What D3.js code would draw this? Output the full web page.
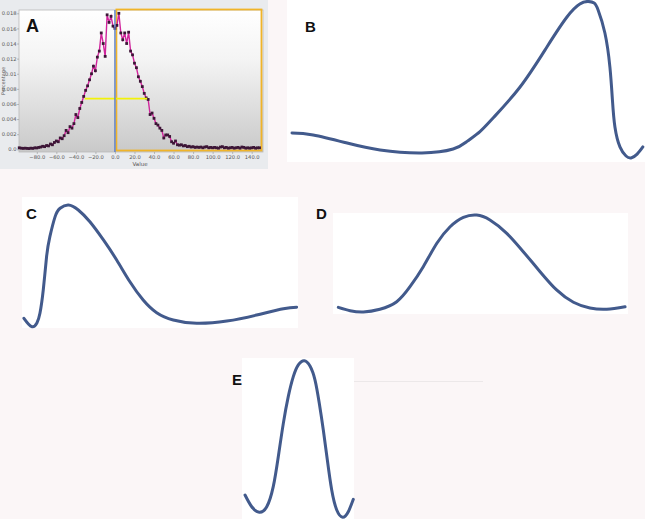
<!DOCTYPE html>
<html>
<head>
<meta charset="utf-8">
<script src="https://cdn.jsdelivr.net/npm/d3@7"></script>
<style>
  body { margin: 0; background: #fbf6f7; }
  svg { display: block; }
</style>
</head>
<body>
<div id="chart"></div>
<script>
// ---- panel A: histogram of values ----
var histX = [-98, -96, -94, -92, -90, -88, -86, -84, -82, -80, -78, -76, -74, -72, -70, -68, -66, -64, -62, -60,
  -58, -56, -54, -52, -50, -48, -46, -44, -42, -40, -38, -36, -34, -32, -30, -28, -26, -24, -22, -20,
  -18, -16, -14, -12, -10, -8, -6, -4, -2, 0, 2, 4, 6, 8, 10, 12, 14, 16, 18, 20,
  22, 24, 26, 28, 30, 32, 34, 36, 38, 40, 42, 44, 46, 48, 50, 52, 54, 56, 58, 60,
  62, 64, 66, 68, 70, 72, 74, 76, 78, 80, 82, 84, 86, 88, 90, 92, 94, 96, 98, 100,
  102, 104, 106, 108, 110, 112, 114, 116, 118, 120, 122, 124, 126, 128, 130, 132, 134, 136, 138, 140,
  142, 144, 146, 148]
var histPct = [0.0002, 0.00015, 0.00012, 0.00015, 0.00012, 0.0001, 0.00015, 0.00012, 0.0002, 0.00018,
  0.00025, 0.0003, 0.0004, 0.00035, 0.0005, 0.00045, 0.0007, 0.0006, 0.0009, 0.0011,
  0.001, 0.0015, 0.0014, 0.0018, 0.0025, 0.0022, 0.003, 0.0028, 0.0034, 0.0046,
  0.0042, 0.0054, 0.0062, 0.007, 0.0078, 0.0084, 0.0092, 0.01, 0.011, 0.0104,
  0.0122, 0.013, 0.0154, 0.014, 0.0123, 0.0178, 0.0168, 0.0176, 0.0163, 0.016,
  0.0164, 0.018, 0.0154, 0.0145, 0.0154, 0.014, 0.0155, 0.013, 0.0125, 0.0114,
  0.0108, 0.0096, 0.009, 0.0083, 0.0074, 0.0068, 0.0066, 0.0046, 0.0048, 0.0041,
  0.0034, 0.0032, 0.0028, 0.0025, 0.0015, 0.0019, 0.0019, 0.0017, 0.001, 0.0008,
  0.0011, 0.0006, 0.00055, 0.0006, 0.00045, 0.0005, 0.00035, 0.0004, 0.0003, 0.00035,
  0.00025, 0.0003, 0.00025, 0.0003, 0.0002, 0.0003, 0.00035, 0.0002, 0.00025, 0.0002,
  0.00025, 0.0002, 0.00015, 0.0003, 0.00035, 0.0002, 0.00025, 0.00015, 0.0002, 0.00025,
  0.00015, 0.0002, 0.00025, 0.00015, 0.0003, 0.00025, 0.00015, 0.0002, 0.00015, 0.0002,
  0.00025, 0.00015, 0.0002, 0.0002]
var aXTicks = [-80, -60, -40, -20, 0, 20, 40, 60, 80, 100, 120, 140]
var aYTicks = [0, 0.002, 0.004, 0.006, 0.008, 0.01, 0.012, 0.014, 0.016, 0.018]
var aYLabels = ["0.0", "0.002", "0.004", "0.006", "0.008", "0.01", "0.012", "0.014", "0.016", "0.018"]
var halfLevel = 0.0067, halfFrom = -31, halfTo = 33
var boxFrom = 1.5, boxTo = 150

// ---- panels B-E: smooth curves, x 0..100 across panel, y 0..100 bottom to top ----
var bX = [1.4, 7.3, 16.8, 26.0, 37.7, 46.4, 50.3, 53.9, 57.5, 65.1, 72.6, 78.2, 81.8, 84.1, 85.8, 86.9, 88.8, 90.2, 90.9, 91.6, 93.0, 94.7, 96.1, 97.8, 99.4]
var bY = [17.9, 16.7, 11.7, 7.4, 5.6, 8.0, 12.7, 18.8, 27.0, 46.3, 71.0, 89.5, 97.5, 99.1, 98.1, 93.8, 79.6, 58.6, 38.3, 21.6, 9.3, 3.7, 2.5, 4.9, 9.3]
var cX = [0.7, 3.5, 5.4, 6.5, 7.7, 8.9, 10.1, 12.0, 13.8, 16.8, 20.4, 24.6, 29.5, 34.3, 39.1, 43.9, 48.8, 54.8, 63.3, 74.2, 85.0, 94.7, 99.5]
var cY = [7.4, 1.0, 3.8, 11.2, 29.0, 54.4, 69.7, 85.0, 91.4, 93.9, 90.1, 81.1, 67.2, 51.9, 35.3, 21.4, 11.7, 6.1, 3.6, 5.3, 9.9, 14.7, 15.8]
var dX = [1.8, 5.8, 10.3, 15.9, 21.6, 26.1, 30.6, 35.2, 39.7, 44.2, 48.7, 53.2, 58.9, 64.5, 70.2, 75.8, 81.5, 87.1, 92.8, 99.0]
var dY = [6.6, 3.3, 2.0, 4.7, 12.2, 27.0, 46.8, 70.0, 86.4, 95.7, 98.0, 93.1, 79.9, 61.7, 41.9, 23.8, 11.6, 5.9, 4.7, 7.2]
var eX = [2.7, 8.7, 15.4, 22.1, 27.9, 32.4, 36.9, 41.3, 45.8, 50.3, 55.6, 60.7, 65.2, 69.0, 72.6, 76.2, 80.1, 84.6, 89.9, 94.9, 99.4]
var eY = [14.9, 7.6, 4.2, 7.6, 20.1, 38.7, 59.4, 76.0, 88.4, 95.7, 98.3, 95.0, 86.3, 71.9, 55.3, 36.6, 18.0, 5.6, 1.1, 4.5, 12.2]

var svg = d3.select("#chart")
    .append("svg")
    .attr("width", 645)
    .attr("height", 519)

svg.append("rect").attr("width", 645).attr("height", 519).attr("fill", "#fbf6f7")

// ===== panel A =====
var plotA = { left: 19, top: 10, right: 263, bottom: 152 }

var defs = svg.append("defs")
var grad = defs.append("linearGradient").attr("id", "aBg")
    .attr("x1", 0).attr("y1", 0).attr("x2", 0).attr("y2", 1)
grad.append("stop").attr("offset", "0%").attr("stop-color", "#ffffff")
grad.append("stop").attr("offset", "35%").attr("stop-color", "#f4f4f4")
grad.append("stop").attr("offset", "100%").attr("stop-color", "#c9c9c9")

var a = svg.append("g")
a.append("rect").attr("x", 0).attr("y", 0).attr("width", 268).attr("height", 169).attr("fill", "#e9ebee")
a.append("rect")
    .attr("x", plotA.left).attr("y", plotA.top)
    .attr("width", plotA.right - plotA.left).attr("height", plotA.bottom - plotA.top)
    .attr("fill", "url(#aBg)")
    .attr("stroke", "#b8b8b8").attr("stroke-width", 0.8)

var xA = d3.scaleLinear().domain([-80, 140]).range([36.8, 251.7])
var yA = d3.scaleLinear().domain([0, 0.018]).range([149.3, 13.3])

var xAxisA = a.append("g")
    .attr("transform", `translate(0, ${plotA.bottom})`)
    .call(d3.axisBottom(xA).tickValues(aXTicks).tickFormat(d3.format(".1f")).tickSize(2).tickPadding(1.5))
var yAxisA = a.append("g")
    .attr("transform", `translate(${plotA.left}, 0)`)
    .call(d3.axisLeft(yA).tickValues(aYTicks).tickFormat((d, i) => aYLabels[i]).tickSize(2).tickPadding(0.5))
;[xAxisA, yAxisA].forEach(g => {
    g.select(".domain").remove()
    g.selectAll("line").attr("stroke", "#888").attr("stroke-width", 0.5)
    g.selectAll("text").attr("fill", "#555").style("font-size", "5.2px").style("font-family", "DejaVu Sans")
})

a.append("text").attr("x", 140).attr("y", 166).attr("text-anchor", "middle")
    .attr("fill", "#555").style("font-size", "5.5px").style("font-family", "DejaVu Sans").text("Value")
a.append("text").attr("transform", "translate(5, 81) rotate(-90)").attr("text-anchor", "middle")
    .attr("fill", "#555").style("font-size", "5px").style("font-family", "DejaVu Sans").text("Percentage")

// highlight box on the right half
a.append("rect")
    .attr("x", xA(boxFrom)).attr("y", 9.5)
    .attr("width", xA(boxTo) - xA(boxFrom)).attr("height", 141)
    .attr("fill", "none").attr("stroke", "#f0b429").attr("stroke-width", 1.8)

var histData = histX.map((x, i) => [x, histPct[i]])
a.append("path")
    .datum(histData)
    .attr("d", d3.line().x(d => xA(d[0])).y(d => yA(d[1])))
    .attr("fill", "none").attr("stroke", "#d1249c").attr("stroke-width", 1.4)
a.append("g").selectAll("rect")
    .data(histData)
    .enter()
    .append("rect")
    .attr("x", d => xA(d[0]) - 1.4)
    .attr("y", d => yA(d[1]) - 1.4)
    .attr("width", 2.8).attr("height", 2.8)
    .attr("fill", "#3c1636")

a.append("line")
    .attr("x1", xA(halfFrom)).attr("x2", xA(halfTo))
    .attr("y1", yA(halfLevel)).attr("y2", yA(halfLevel))
    .attr("stroke", "#f2f20a").attr("stroke-width", 1.8)
a.append("line")
    .attr("x1", xA(0)).attr("x2", xA(0))
    .attr("y1", plotA.top).attr("y2", plotA.bottom)
    .attr("stroke", "#5a7ec8").attr("stroke-width", 1.4)

a.append("text").attr("x", 26).attr("y", 32)
    .style("font-family", "Liberation Sans").style("font-weight", "bold").style("font-size", "18px")
    .attr("fill", "#111").text("A")

// ===== panels B-E =====
var curveLine = "#425a8c"

function drawPanel(box, xs, ys, label, lx, ly) {
    var g = svg.append("g")
    g.append("rect").attr("x", box.x0).attr("y", box.y0)
        .attr("width", box.x1 - box.x0).attr("height", box.y1 - box.y0).attr("fill", "#ffffff")
    var xScale = d3.scaleLinear().domain([0, 100]).range([box.x0, box.x1])
    var yScale = d3.scaleLinear().domain([0, 100]).range([box.y1, box.y0])
    var pts = xs.map((x, i) => [x, ys[i]])
    g.append("path")
        .datum(pts)
        .attr("d", d3.line().x(d => xScale(d[0])).y(d => yScale(d[1])).curve(d3.curveNatural))
        .attr("fill", "none").attr("stroke", curveLine).attr("stroke-width", 3).attr("stroke-linecap", "round")
    g.append("text").attr("x", lx).attr("y", ly)
        .style("font-family", "Liberation Sans").style("font-weight", "bold").style("font-size", "15px")
        .attr("fill", "#111").text(label)
    return g
}

drawPanel({ x0: 287, x1: 645, y0: 0, y1: 162 }, bX, bY, "B", 305, 32)

svg.append("rect").attr("x", 22).attr("y", 197).attr("width", 25).attr("height", 28).attr("fill", "#f8f4f5")
drawPanel({ x0: 22, x1: 298, y0: 197, y1: 328 }, cX, cY, "C", 26, 219)
drawPanel({ x0: 333, x1: 628, y0: 213, y1: 314 }, dX, dY, "D", 316, 219)

// faint rule and label tile behind E
svg.append("line").attr("x1", 245).attr("x2", 483).attr("y1", 381.5).attr("y2", 381.5)
    .attr("stroke", "#ece8e9").attr("stroke-width", 1)
drawPanel({ x0: 242, x1: 354, y0: 358, y1: 519 }, eX, eY, "E", 232, 385)
</script>
</body>
</html>
